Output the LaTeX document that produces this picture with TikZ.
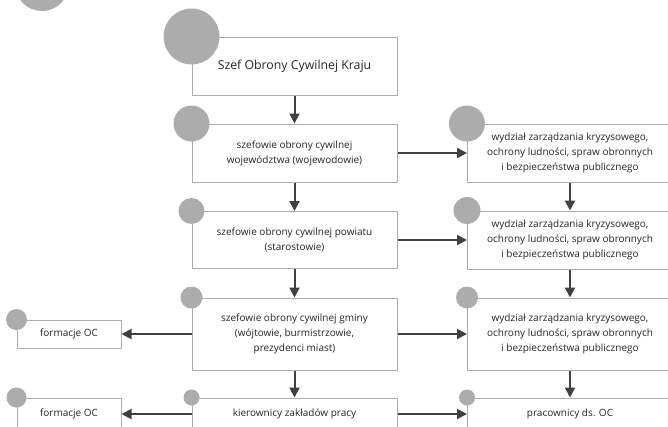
\documentclass[tikz,border=0pt]{standalone}
\usepackage{fontspec}
\setmainfont{Open Sans}
\usetikzlibrary{arrows.meta,positioning}
\begin{document}
\begin{tikzpicture}[
    x=1pt, y=-1pt,
    box/.style={rectangle, draw=gray!65, line width=1pt, fill=white, minimum width=205pt, text=black!85, font=\fontsize{10}{15}\selectfont, align=center, inner sep=0pt},
    small/.style={box, minimum width=104pt},
    dot/.style={circle, fill=gray!65, inner sep=0pt},
    arrow/.style={-{Triangle[length=10pt,width=10pt]}, line width=2pt, draw=black!75},
]
    \clip (0,0) rectangle (668,426);

    % Left column
    \node[box, minimum height=58pt, font=\fontsize{12.3}{15}\selectfont] (kraj) at (294.5,66) {Szef Obrony Cywilnej Kraju};
    \node[box, minimum height=58pt] (woj) at (294.5,153) {szefowie obrony cywilnej\\województwa (wojewodowie)};
    \node[box, minimum height=57pt] (pow) at (294.5,240) {szefowie obrony cywilnej powiatu\\(starostowie)};
    \node[box, minimum height=72pt] (gmina) at (294.5,334) {szefowie obrony cywilnej gminy\\(wójtowie, burmistrzowie,\\prezydenci miast)};
    \node[box, minimum height=32pt] (kier) at (294.5,414) {kierownicy zakładów pracy};

    % Right column
    \foreach \n/\y/\h in {wzk1/153/58, wzk2/240/58, wzk3/334/72} {
        \node[box, minimum height=\h pt] (\n) at (570,\y) {wydział zarządzania kryzysowego,\\ochrony ludności, spraw obronnych\\i bezpieczeństwa publicznego};
    }
    \node[box, minimum height=32pt] (prac) at (570,414) {pracownicy ds. OC};

    % Formations
    \node[small, minimum height=28pt] (form1) at (69,334) {formacje OC};
    \node[small, minimum height=32pt] (form2) at (69,414) {formacje OC};

    % Arrows
    \draw[arrow] (kraj) -- (woj);
    \draw[arrow] (woj) -- (pow);
    \draw[arrow] (pow) -- (gmina);
    \draw[arrow] (gmina) -- (kier);
    \draw[arrow] (wzk1) -- (wzk2);
    \draw[arrow] (wzk2) -- (wzk3);
    \draw[arrow] (wzk3) -- (prac);
    \draw[arrow] (woj) -- (wzk1);
    \draw[arrow] (pow) -- (wzk2);
    \draw[arrow] (gmina) -- (wzk3);
    \draw[arrow] (kier) -- (prac);
    \draw[arrow] (gmina) -- (form1);
    \draw[arrow] (kier) -- (form2);

    % Corner circles
    \node[dot, minimum size=54pt] (corner) at (42,-16) {};
    \foreach \n/\r in {kraj/28, woj/18, pow/13, gmina/11, kier/8, wzk1/18, wzk2/13.5, wzk3/11, prac/8, form1/10.5, form2/10} {
        \node[dot, minimum size=\r*2pt] (c\n) at (\n.north west) {};
    }
\end{tikzpicture}
\end{document}
